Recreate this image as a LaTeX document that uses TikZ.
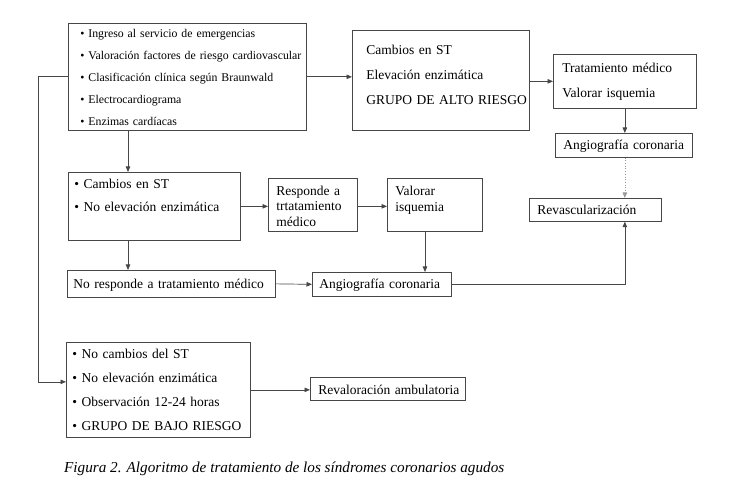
\documentclass[tikz,border=0pt]{standalone}
\usepackage{fontspec}
\setmainfont{Liberation Serif}
\usetikzlibrary{arrows.meta,calc}
\newcommand{\Tp}[1]{\rule{0pt}{#1pt}}
\newcommand{\Dp}[1]{\rule[-#1pt]{0pt}{#1pt}}
\newlength{\bpad}
\newcommand{\I}{\hspace*{\bpad}}
\begin{document}
\begin{tikzpicture}[x=1pt,y=-1pt,
  box/.style={draw=black!72, line width=0.7pt, anchor=north west, inner sep=0pt, align=left},
  bx/.style 2 args={box, text width=#1, execute at begin node={\setlength{\bpad}{#2}}},
  fa/.style={font=\fontsize{11.8}{22}\selectfont},
  fb/.style={font=\fontsize{13.5}{25}\selectfont},
  fc/.style={font=\fontsize{13.5}{23}\selectfont},
  fd/.style={font=\fontsize{13.5}{15.5}\selectfont},
  fe/.style={font=\fontsize{13.5}{24}\selectfont},
  arr/.style={draw=black!72, line width=0.7pt, -{Triangle[length=5.5pt,width=4.5pt]}},
  dt/.style={draw=black!40, line width=0.7pt, dotted, -{Triangle[length=5.5pt,width=4.5pt]}},
]
\useasboundingbox (0,0) rectangle (736,502);
\fill[white] (0,0) rectangle (736,502);

% boxes
\node[bx={238pt}{12pt}, fa] (b1) at (68,23) {\I\Tp{14.5}• Ingreso al servicio de emergencias\\ \I• Valoración factores de riesgo cardiovascular\\ \I• Clasificación clínica según Braunwald\\ \I• Electrocardiograma\\ \I• Enzimas cardíacas\Dp{4.5}};

\node[bx={177pt}{14pt}, fb] (b2) at (352,30) {\I\Tp{24}Cambios en ST\\ \I Elevación enzimática\\ \I GRUPO DE ALTO RIESGO\Dp{26}};

\node[bx={143pt}{9pt}, fb] (b3) at (553,54) {\I\Tp{18}Tratamiento médico\\ \I Valorar isquemia\Dp{11}};

\node[bx={137pt}{8pt}, fb] (b4) at (555,133) {\I\Tp{16.5}Angiografía coronaria\Dp{7.5}};

\node[bx={132pt}{8pt}, fb] (b5) at (529,198) {\I\Tp{16}Revascularización\Dp{7}};

\node[bx={172pt}{6pt}, fc] (b6) at (68,172) {\I\Tp{16}• Cambios en ST\\ \I• No elevación enzimática\Dp{29}};

\node[bx={89pt}{8pt}, fd] (b7) at (268,178) {\I\Tp{17}Responde a\\ \I trtatamiento\\ \I médico\Dp{5}};

\node[bx={95pt}{8pt}, fd] (b8) at (387,178) {\I\Tp{17.5}Valorar\\ \I isquemia\Dp{20}};

\node[bx={208pt}{6pt}, fb] (b9) at (67,270) {\I\Tp{18}No responde a tratamiento médico\Dp{9}};

\node[bx={139pt}{7pt}, fb] (b10) at (312,272) {\I\Tp{16}Angiografía coronaria\Dp{8}};

\node[bx={184pt}{6pt}, fe] (b11) at (66,342) {\I\Tp{16.5}• No cambios del ST\\ \I• No elevación enzimática\\ \I• Observación 12-24 horas\\ \I• GRUPO DE BAJO RIESGO\Dp{6.5}};

\node[bx={155pt}{8pt}, fb] (b12) at (310,377) {\I\Tp{17}Revaloración ambulatoria\Dp{6}};

\node[anchor=base west, inner sep=0pt, font=\fontsize{15.2}{17}\selectfont\itshape] (cap) at (64,472) {Figura 2. Algoritmo de tratamiento de los síndromes coronarios agudos};

% helper coordinates
\coordinate (t6) at ($(b6.north west)+(60,0)$);
\coordinate (t10) at ($(b8.south west)+(38,0)$);
\coordinate (in11) at ($(b11.west)+(0,-8)$);

% connectors
\draw[arr] (b1.east) -- (b1.east -| b2.west);
\draw[arr] (b3.west -| b2.east) -- (b3.west);
\draw[arr] (b1.west) -- ++(-30,0) |- (in11);
\draw[arr] (t6 |- b1.south) -- (t6);
\draw[arr] (b6.east) -- (b6.east -| b7.west);
\draw[arr] (b6.east -| b7.east) -- (b6.east -| b8.west);
\draw[arr] (t10) -- (t10 |- b10.north);
\draw[arr] (t6 |- b6.south) -- (t6 |- b9.north);
\draw[arr] (b9.east) -- (b10.west);
\draw[arr] (b10.east) -| (b3.south |- b5.south);
\draw[arr] (b3.south) -- (b3.south |- b4.north);
\draw[dt] (b3.south |- b4.south) -- (b3.south |- b5.north);
\draw[arr] (b11.east) -- (b11.east -| b12.west);
\end{tikzpicture}
\end{document}
